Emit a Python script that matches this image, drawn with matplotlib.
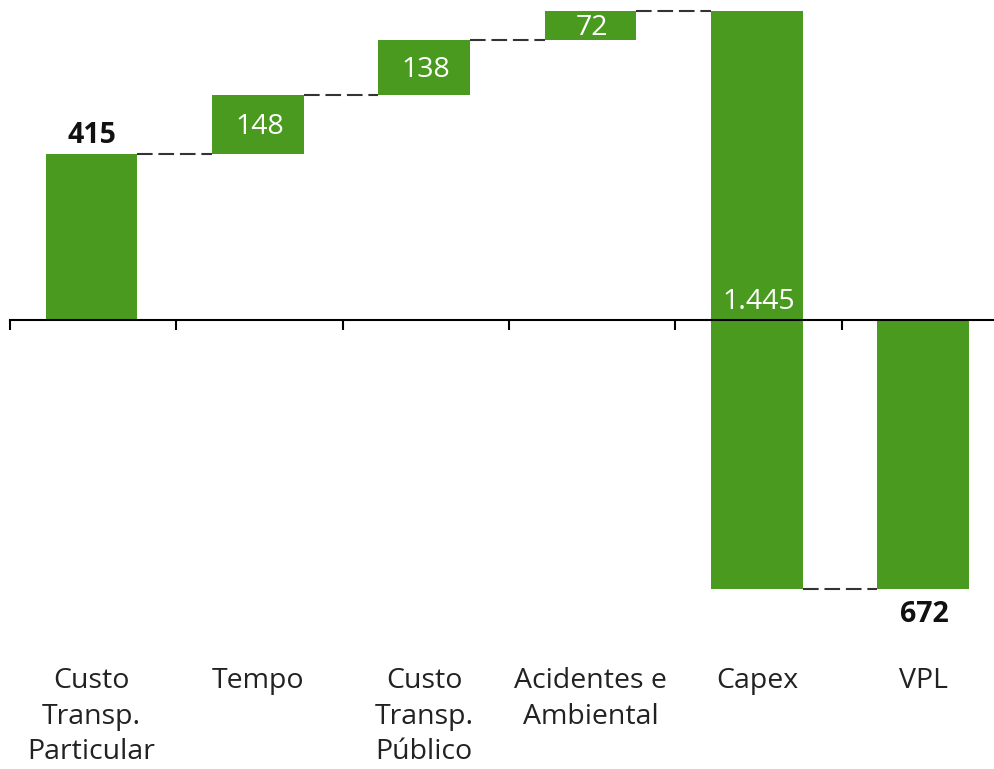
import matplotlib
matplotlib.use("Agg")
import matplotlib.pyplot as plt
import numpy as np

# dados do gráfico (cascata do VPL)
categorias = ["Custo\nTransp.\nParticular", "Tempo", "Custo\nTransp.\nPúblico",
              "Acidentes e\nAmbiental", "Capex", "VPL"]
valores = [415, 148, 138, 72, -1445, -672]
rotulos = ["415", "148", "138", "72", "1.445", "672"]

VERDE = "#4a9a20"
plt.rcParams["font.family"] = ["Open Sans", "DejaVu Sans"]

fig = plt.figure(figsize=(9.95, 7.69), dpi=100)
ax = fig.add_axes([10 / 995, 0, 998 / 995, 1])
x = np.arange(len(valores))
larg = 0.553
dx = -0.01

# base de cada barra: acumulado, e a última é o total a partir do zero
bases, alturas = [], []
acum = 0
for i, v in enumerate(valores):
    if i == len(valores) - 1:
        bases.append(0)
    else:
        bases.append(acum)
        acum += v
    alturas.append(v)

ax.bar(x + dx, alturas, bottom=bases, width=larg, color=VERDE, zorder=2)

# ligações tracejadas
for i in range(len(valores) - 1):
    nivel = bases[i] + alturas[i]
    ax.plot([x[i] + dx + larg / 2, x[i + 1] + dx - larg / 2], [nivel, nivel],
            color="#333333", lw=1.5, ls=(0, (7.5, 2.8)), zorder=1)

# rótulos
ax.text(x[0] - 0.01, bases[0] + alturas[0] + 10, rotulos[0], ha="center",
        va="bottom", fontsize=20.5, fontweight="bold", color="#111111")
for i in (1, 2, 3):
    ax.text(x[i], bases[i] + alturas[i] / 2 - 6, rotulos[i], ha="center",
            va="center", fontsize=20.5, color="white")
ax.text(x[4], 45, rotulos[4], ha="center", va="center", fontsize=20.5,
        color="white")
ax.text(x[5], alturas[5] - 28, rotulos[5], ha="center", va="top",
        fontsize=20.5, fontweight="bold", color="#111111")

for xi, c in zip(x, categorias):
    ax.text(xi - 0.01, -868, c, ha="center", va="top", fontsize=20.5,
            color="#222222", linespacing=1.35)

ax.set_xlim(-0.5, 5.5)
ax.set_ylim(-1122, 800)
for s in ("top", "left", "right"):
    ax.spines[s].set_visible(False)
ax.spines["bottom"].set_position(("data", 0))
ax.spines["bottom"].set_linewidth(1.5)
ax.spines["bottom"].set_zorder(3)
ax.set_xticks(np.arange(-0.5, 5.6, 1))
ax.set_xticklabels([])
ax.tick_params(axis="x", length=7, width=1.5, direction="out")
ax.set_yticks([])
ax.patch.set_alpha(0)

fig.savefig("out.png", dpi=100)
